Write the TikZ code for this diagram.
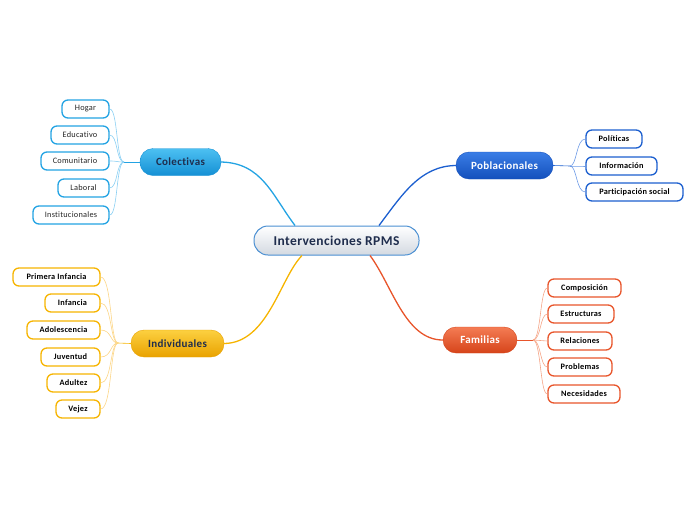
\documentclass[tikz,border=0pt]{standalone}
\usepackage{fontspec}
\setmainfont{Carlito}
\definecolor{cbl}{HTML}{23A3E3}
\definecolor{cbltop}{HTML}{4CC0F2}
\definecolor{cblbot}{HTML}{1590D4}
\definecolor{cblline}{HTML}{8ACFF3}
\definecolor{pbl}{HTML}{1C5FCF}
\definecolor{pbltop}{HTML}{3A7DE6}
\definecolor{pblbot}{HTML}{1450BC}
\definecolor{pblline}{HTML}{6E9BE6}
\definecolor{yel}{HTML}{F6B400}
\definecolor{yeltop}{HTML}{FCD040}
\definecolor{yelbot}{HTML}{E9A200}
\definecolor{yelline}{HTML}{FCD585}
\definecolor{ora}{HTML}{E8552B}
\definecolor{oratop}{HTML}{F47C54}
\definecolor{orabot}{HTML}{D6441A}
\definecolor{oraline}{HTML}{F5A587}
\definecolor{cenborder}{HTML}{4A8FD2}
\definecolor{cenbot}{HTML}{D3D9E1}
\definecolor{centext}{HTML}{1F2D4D}
\newfontfamily\spaced[LetterSpace=3,Ligatures={NoCommon,NoRare,NoDiscretionary}]{Carlito}
\tikzset{
  central/.style={draw=cenborder, line width=1pt, top color=white, bottom color=cenbot,
    rounded corners=14pt, minimum width=165pt, minimum height=29pt, inner sep=0pt,
    font=\spaced\fontsize{13.5}{15}\selectfont\bfseries, text=centext},
  mainnode/.style={rounded corners=13pt, inner sep=0pt, minimum height=27pt,
    font=\spaced\fontsize{11}{13}\selectfont\bfseries},
  leaf/.style={draw, fill=white, line width=1.3pt, rounded corners=6pt, minimum height=18pt,
    inner sep=0pt, font=\spaced\fontsize{8.3}{10}\selectfont, text=black!85},
  bleaf/.style={leaf, font=\spaced\fontsize{8.3}{10}\selectfont\bfseries, text=black},
  branch/.style={line width=1.3pt},
  twig/.style={line width=0.6pt},
}
\begin{document}
\begin{tikzpicture}[x=1pt,y=-1pt]
\useasboundingbox (0,0) rectangle (696,520);

% central
\node[central] (c) at (336.5,240.5) {Intervenciones RPMS};

% main nodes
\node[mainnode, draw=cblbot, top color=cbltop, bottom color=cblbot, minimum width=81pt, text=centext] (col) at (180.5,162) {Colectivas};
\node[mainnode, draw=pblbot, top color=pbltop, bottom color=pblbot, minimum width=97pt, text=white] (pob) at (504.5,165.5) {Poblacionales};
\node[mainnode, draw=yelbot, top color=yeltop, bottom color=yelbot, minimum width=93pt, text=centext] (ind) at (177.5,343.5) {Individuales};
\node[mainnode, draw=orabot, top color=oratop, bottom color=orabot, minimum width=74pt, minimum height=26pt, text=white] (fam) at (480,340) {Familias};

% main connectors
\draw[branch, cbl] (col.east) .. controls (262,163) and (272,195) .. (c.north west -| 295,0);
\draw[branch, pbl] (pob.west) .. controls (420,166) and (402,195) .. (c.north -| 379,0);
\draw[branch, yel] (ind.east) .. controls (268,343) and (280,278) .. (c.south -| 302,0);
\draw[branch, ora] (fam.west) .. controls (405,340) and (392,285) .. (c.south -| 370,0);

% Colectivas leaves
\node[leaf, draw=cbl, minimum width=47pt] (hog) at (85.5,109) {Hogar};
\node[leaf, draw=cbl, minimum width=58pt] (edu) at (80,135) {Educativo};
\node[leaf, draw=cbl, minimum width=68pt] (com) at (75,161) {Comunitario};
\node[leaf, draw=cbl, minimum width=51pt] (lab) at (83.5,188) {Laboral};
\node[leaf, draw=cbl, minimum width=76pt] (ins) at (71,215) {Institucionales};
\coordinate (colb) at (124,162);
\draw[twig, cbl] (col.west) -- (colb);
\foreach \n in {hog,edu,com,lab,ins}
  \draw[twig, cblline] (colb) .. controls (116,162) and (118,0 |- \n.east) .. (\n.east);

% Poblacionales leaves
\node[bleaf, draw=pbl, minimum width=56pt] (pol) at (614,139) {Políticas};
\node[bleaf, draw=pbl, minimum width=71pt] (inf) at (621.5,166) {Información};
\node[bleaf, draw=pbl, minimum width=97pt] (par) at (634.5,192) {Participación social};
\coordinate (pobb) at (570,166);
\draw[twig, pbl] (pob.east) -- (pobb);
\foreach \n in {pol,inf,par}
  \draw[twig, pblline] (pobb) .. controls (577,166) and (576,0 |- \n.west) .. (\n.west);

% Individuales leaves
\node[bleaf, draw=yel, minimum width=87pt] (pri) at (56.5,277) {Primera Infancia};
\node[bleaf, draw=yel, minimum width=55pt] (infa) at (72.5,303) {Infancia};
\node[bleaf, draw=yel, minimum width=73pt] (ado) at (63.5,330) {Adolescencia};
\node[bleaf, draw=yel, minimum width=59pt] (juv) at (70.5,357) {Juventud};
\node[bleaf, draw=yel, minimum width=53pt] (adu) at (73.5,383) {Adultez};
\node[bleaf, draw=yel, minimum width=44pt] (vej) at (78,409) {Vejez};
\coordinate (indb) at (118,343);
\draw[twig, yel] (ind.west) -- (indb);
\foreach \n in {pri,infa,ado,juv,adu,vej}
  \draw[twig, yelline] (indb) .. controls (110,343) and (112,0 |- \n.east) .. (\n.east);

% Familias leaves
\node[bleaf, draw=ora, minimum width=73pt] (cmp) at (584.5,288) {Composición};
\node[bleaf, draw=ora, minimum width=66pt] (est) at (581,314) {Estructuras};
\node[bleaf, draw=ora, minimum width=64pt] (rel) at (580,341) {Relaciones};
\node[bleaf, draw=ora, minimum width=64pt] (pro) at (580,367) {Problemas};
\node[bleaf, draw=ora, minimum width=72pt] (nec) at (584,394) {Necesidades};
\coordinate (famb) at (533,340);
\draw[twig, ora] (fam.east) -- (famb);
\foreach \n in {cmp,est,rel,pro,nec}
  \draw[twig, oraline] (famb) .. controls (541,340) and (540,0 |- \n.west) .. (\n.west);
\end{tikzpicture}
\end{document}
